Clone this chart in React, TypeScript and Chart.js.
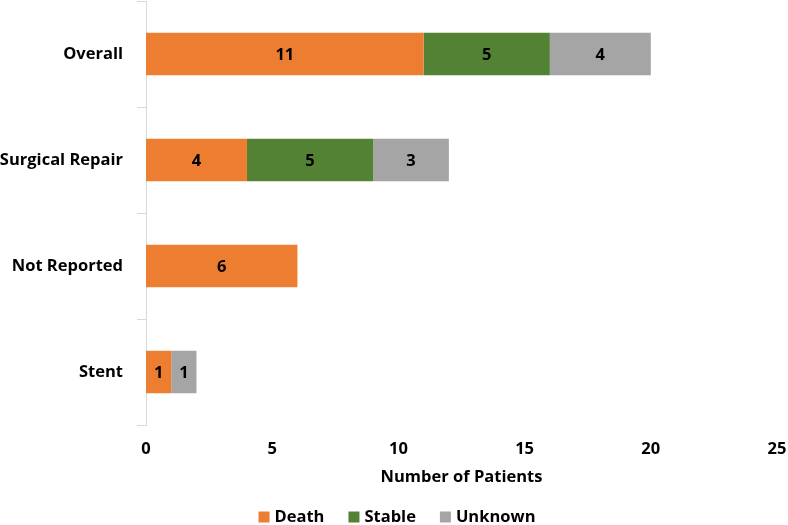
import React, { useEffect, useRef } from "react";
import { Chart, registerables } from "chart.js";

Chart.register(...registerables);

const categories = ["Overall", "Surgical Repair", "Not Reported", "Stent"];
const deathValues = [11, 4, 6, 1];
const stableValues = [5, 5, 0, 0];
const unknownValues = [4, 3, 0, 1];
const xTicks = [0, 5, 10, 15, 20, 25];
const seriesNames = ["Death", "Stable", "Unknown"];
const seriesColors = ["#ED7D31", "#548235", "#A5A5A5"];

const FONT = "'Open Sans', 'DejaVu Sans', sans-serif";
const FS = 16.5;

const barLabels = {
  id: "barLabels",
  afterDatasetsDraw(chart: any) {
    const ctx = chart.ctx;
    ctx.save();
    ctx.font = `bold ${FS}px ${FONT}`;
    ctx.fillStyle = "#000000";
    ctx.textAlign = "center";
    ctx.textBaseline = "middle";
    chart.data.datasets.forEach((ds: any, di: number) => {
      const meta = chart.getDatasetMeta(di);
      meta.data.forEach((bar: any, i: number) => {
        const v = ds.data[i];
        if (!v) return;
        const cx = (bar.x + bar.base) / 2;
        ctx.fillText(String(v), cx, bar.y + 1);
      });
    });
    ctx.restore();
  },
};

const bottomLegend = {
  id: "bottomLegend",
  afterDraw(chart: any) {
    const ctx = chart.ctx;
    ctx.save();
    ctx.font = `bold ${FS}px ${FONT}`;
    const box = 11;
    const gapBoxText = 5;
    const gapItems = 24;
    const widths = chart.data.datasets.map((d: any) => ctx.measureText(d.label).width);
    const total =
      widths.reduce((a: number, w: number) => a + box + gapBoxText + w, 0) +
      gapItems * (widths.length - 1);
    let x = chart.width / 2 + 3 - total / 2;
    const cy = chart.height - 8;
    chart.data.datasets.forEach((d: any, i: number) => {
      ctx.fillStyle = d.backgroundColor;
      ctx.fillRect(x, cy - box / 2, box, box);
      x += box + gapBoxText;
      ctx.fillStyle = "#000000";
      ctx.textAlign = "left";
      ctx.textBaseline = "middle";
      ctx.fillText(d.label, x, cy);
      x += widths[i] + gapItems;
    });
    ctx.restore();
  },
};

export default function App() {
  const ref = useRef<HTMLCanvasElement | null>(null);
  useEffect(() => {
    if (!ref.current) return;
    const chart = new Chart(ref.current, {
      type: "bar",
      data: {
        labels: categories,
        datasets: [
          { label: seriesNames[0], data: deathValues, backgroundColor: seriesColors[0] },
          { label: seriesNames[1], data: stableValues, backgroundColor: seriesColors[1] },
          { label: seriesNames[2], data: unknownValues, backgroundColor: seriesColors[2] },
        ],
      },
      options: {
        indexAxis: "y",
        animation: false,
        responsive: false,
        maintainAspectRatio: false,
        layout: { padding: { top: 1, right: 11, bottom: 38, left: 0 } },
        datasets: { bar: { barPercentage: 0.4, categoryPercentage: 1 } },
        scales: {
          x: {
            stacked: true,
            min: 0,
            max: 25,
            afterBuildTicks: (scale: any) => {
              scale.ticks = xTicks.map((v) => ({ value: v }));
            },
            afterFit: (scale: any) => {
              scale.height = 62;
              scale.paddingLeft = 0;
              scale.paddingRight = 0;
            },
            grid: { display: false, drawTicks: false },
            border: { display: false },
            ticks: {
              padding: 14,
              color: "#000000",
              font: { family: FONT, size: FS, weight: "bold" },
            },
            title: {
              display: true,
              text: "Number of Patients",
              color: "#000000",
              padding: { top: 6, bottom: 0 },
              font: { family: FONT, size: FS, weight: "bold" },
            },
          },
          y: {
            stacked: true,
            afterFit: (scale: any) => {
              scale.width = 146;
              scale.paddingTop = 0;
              scale.paddingBottom = 0;
            },
            grid: {
              display: true,
              drawOnChartArea: false,
              drawTicks: true,
              tickLength: 9,
              color: "#D9D9D9",
              offset: true,
            },
            border: { display: true, color: "#D9D9D9", width: 1 },
            ticks: {
              padding: 14,
              color: "#000000",
              font: { family: FONT, size: FS, weight: "bold" },
            },
          },
        },
        plugins: {
          legend: { display: false },
          tooltip: { enabled: false },
        },
      },
      plugins: [barLabels, bottomLegend],
    } as any);
    return () => chart.destroy();
  }, []);
  return (
    <div style={{ position: "fixed", left: 0, top: 0, width: 788, height: 525, background: "#fff" }}>
      <canvas ref={ref} width={788} height={525} style={{ width: 788, height: 525 }} />
    </div>
  );
}
